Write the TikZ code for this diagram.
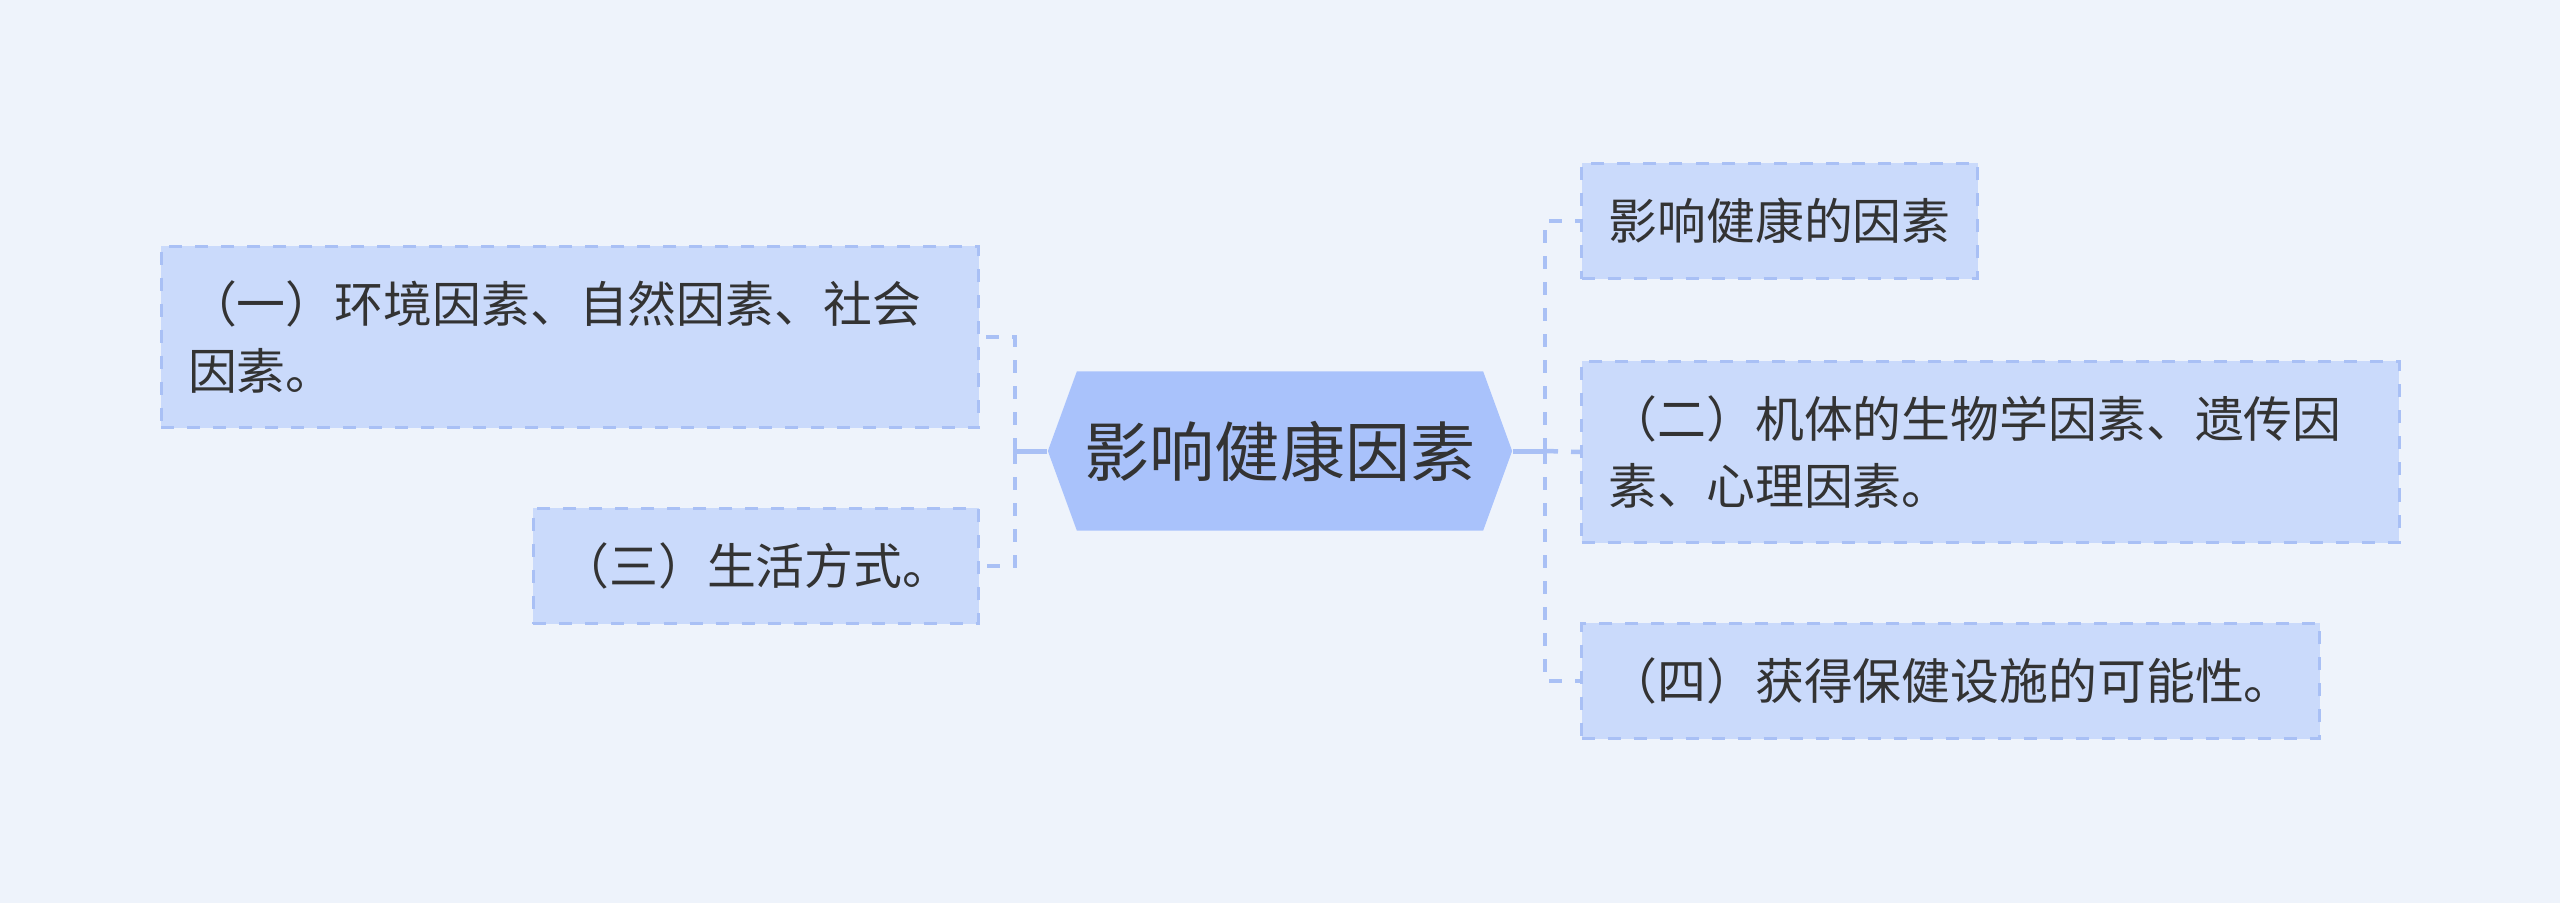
\documentclass[tikz,border=0pt]{standalone}
\usepackage{fontspec}
\newfontfamily\cjkfont{Noto Sans CJK SC}
\usepackage{tikz}
\usetikzlibrary{shapes.symbols}
\usepackage{xcolor}
\definecolor{bgblue}{HTML}{EEF3FB}
\definecolor{rootblue}{HTML}{A9C2FB}
\definecolor{leafblue}{HTML}{CADAFB}
\definecolor{linkblue}{HTML}{A9C0F5}
\definecolor{inkgray}{HTML}{333333}

\begin{document}
\begin{tikzpicture}[x=0.01cm,y=-0.01cm,
  leaf/.style={draw=linkblue,dash pattern=on 0.13cm off 0.13cm,line width=0.03cm,fill=leafblue,text=inkgray,
    font=\cjkfont\fontsize{13.9pt}{19.05pt}\selectfont,align=left,inner xsep=0.27cm,inner ysep=0pt,minimum height=1.15cm},
  twoline/.style={minimum height=1.81cm,text width=7.63cm},
  trunk/.style={draw=linkblue,line width=0.05cm},
  branch/.style={draw=linkblue,line width=0.045cm,dash pattern=on 0.13cm off 0.13cm}]
\fill[bgblue] (0,0) rectangle (2560,903);
% central topic
\node[signal,signal to=west and east,signal pointer angle=140,fill=rootblue,text=inkgray,inner sep=0pt,
  minimum width=4.64cm,minimum height=1.59cm,font=\cjkfont\fontsize{18.5pt}{22pt}\selectfont] (root) at (1280,451) {影响健康因素};
% left branches
\node[leaf,twoline,anchor=east] (env) at (980,337) {（一）环境因素、自然因素、社会\\因素。};
\node[leaf,anchor=east] (life) at (980,566) {（三）生活方式。};
% right branches
\node[leaf,anchor=west] (title) at (1580,221) {影响健康的因素};
\node[leaf,twoline,anchor=west] (bio) at (1580,452) {（二）机体的生物学因素、遗传因\\素、心理因素。};
\node[leaf,anchor=west] (care) at (1580,681) {（四）获得保健设施的可能性。};
% connectors
\coordinate (ljoint) at (1015,451);
\coordinate (rjoint) at (1545,451);
\draw[trunk] (root.west) -- (ljoint);
\draw[trunk] (root.east) -- (rjoint);
\draw[branch] (ljoint) |- (env.east);
\draw[branch] (ljoint) |- (life.east);
\draw[branch] (rjoint) |- (title.west);
\draw[branch] (rjoint) -- (bio.west);
\draw[branch] (rjoint) |- (care.west);
\end{tikzpicture}
\end{document}
